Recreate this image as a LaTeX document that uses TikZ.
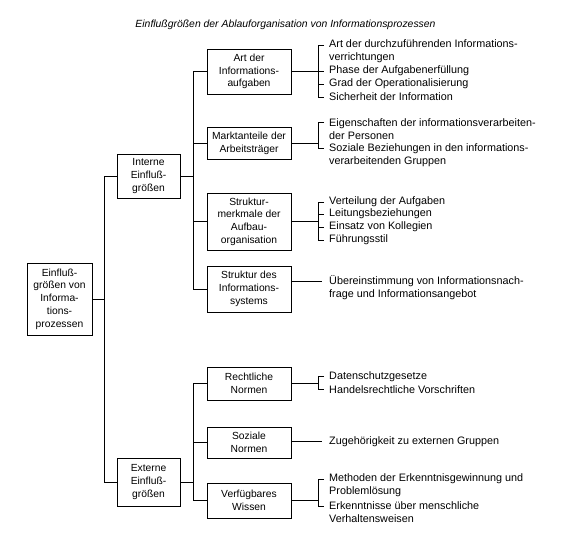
\documentclass[tikz,border=0pt]{standalone}
\usepackage{fontspec}
\setmainfont{Liberation Sans}
\begin{document}
\begin{tikzpicture}[x=1pt,y=-1pt,
  font=\fontsize{10.3}{12.7}\selectfont,
  box/.style={draw, line width=0.8pt, inner sep=0pt, align=center, minimum width=84pt},
  sbox/.style={draw, line width=0.8pt, inner sep=0pt, align=center, minimum width=63pt},
  item/.style={anchor=west, align=left, inner sep=0pt, font=\fontsize{10.8}{13}\selectfont},
  conn/.style={line width=0.8pt}]
\useasboundingbox (0,0) rectangle (573,555);
\node[font=\fontsize{10.4}{12.7}\selectfont\itshape] (title) at (285.5,25) {Einflußgrößen der Ablauforganisation von Informationsprozessen};

% boxes
\node[draw, line width=0.8pt, inner sep=0pt, align=center, minimum width=65pt, minimum height=72pt] (root) at (59.5,299) {Einfluß-\\größen von\\Informa-\\tions-\\prozessen};
\node[sbox, minimum height=44pt] (intern) at (148.5,176) {Interne\\Einfluß-\\größen};
\node[sbox, minimum height=48pt] (extern) at (148.5,482) {Externe\\Einfluß-\\größen};

\node[box, minimum height=45pt] (art) at (249,71.5) {Art der\\Informations-\\aufgaben};
\node[box, minimum height=32pt] (markt) at (249,143) {Marktanteile der\\Arbeitsträger};
\node[box, minimum height=57pt] (strukm) at (249,221.5) {Struktur-\\merkmale der\\Aufbau-\\organisation};
\node[box, minimum height=46pt] (struks) at (249,289) {Struktur des\\Informations-\\systems};
\node[box, minimum height=33pt] (recht) at (249,383.5) {Rechtliche\\Normen};
\node[box, minimum height=31pt] (sozial) at (249,442.5) {Soziale\\Normen};
\node[box, minimum height=35pt] (wissen) at (249,500.5) {Verfügbares\\Wissen};

% first level connectors
\coordinate (tA) at (104,176);
\coordinate (tB) at (104,482);
\draw[conn] (intern.west) -- (tA) -- (tB) -- (extern.west);
\draw[conn] (root.east) -- (root.east -| tA);

% second level, intern
\coordinate (iA) at (193,71.5);
\coordinate (iB) at (193,289);
\draw[conn] (intern.east) -- (intern.east -| iA);
\draw[conn] (art.west) -- (iA) -- (iB) -- (struks.west);
\draw[conn] (markt.west) -- (markt.west -| iA);
\draw[conn] (strukm.west) -- (strukm.west -| iA);

% second level, extern
\coordinate (eA) at (193,383.5);
\coordinate (eB) at (193,500.5);
\draw[conn] (extern.east) -- (extern.east -| eA);
\draw[conn] (recht.west) -- (eA) -- (eB) -- (wissen.west);
\draw[conn] (sozial.west) -- (sozial.west -| eA);

% leaves: Art der
\node[item] (a1) at (329,51.5) {Art der durchzuführenden Informations-\\verrichtungen};
\node[item] (a2) at (329,71) {Phase der Aufgabenerfüllung};
\node[item] (a3) at (329,84) {Grad der Operationalisierung};
\node[item] (a4) at (329,97) {Sicherheit der Information};
\coordinate (ab1) at (318,45);
\coordinate (ab4) at (318,97);
\draw[conn] (art.east) -- (art.east -| ab1);
\draw[conn] (324,45) -- (ab1) -- (ab4) -- (324,97);
\draw[conn] (318,71) -- (324,71);
\draw[conn] (318,84) -- (324,84);

% leaves: Marktanteile
\node[item] (m1) at (329,129) {Eigenschaften der informationsverarbeiten-\\der Personen};
\node[item] (m2) at (329,155) {Soziale Beziehungen in den informations-\\verarbeitenden Gruppen};
\coordinate (mb1) at (318,122);
\coordinate (mb2) at (318,148);
\draw[conn] (markt.east) -- (markt.east -| mb1);
\draw[conn] (324,122) -- (mb1) -- (mb2) -- (324,148);

% leaves: Strukturmerkmale
\node[item] (s1) at (329,202) {Verteilung der Aufgaben};
\node[item] (s2) at (329,214) {Leitungsbeziehungen};
\node[item] (s3) at (329,227) {Einsatz von Kollegien};
\node[item] (s4) at (329,240) {Führungsstil};
\coordinate (sb1) at (318,202);
\coordinate (sb4) at (318,240);
\draw[conn] (strukm.east) -- (strukm.east -| sb1);
\draw[conn] (324,202) -- (sb1) -- (sb4) -- (324,240);
\draw[conn] (318,214) -- (324,214);
\draw[conn] (318,227) -- (324,227);

% leaves: Struktur des Informationssystems
\node[item] (u1) at (329,287.5) {Übereinstimmung von Informationsnach-\\frage und Informationsangebot};
\coordinate (ub) at (322,281);
\draw[conn] (struks.east |- ub) -- (ub);

% leaves: Rechtliche Normen
\node[item] (r1) at (329,376.5) {Datenschutzgesetze};
\node[item] (r2) at (329,389.5) {Handelsrechtliche Vorschriften};
\coordinate (rb1) at (318,376.5);
\coordinate (rb2) at (318,389.5);
\draw[conn] (recht.east) -- (recht.east -| rb1);
\draw[conn] (324,376.5) -- (rb1) -- (rb2) -- (324,389.5);

% leaves: Soziale Normen
\node[item] (z1) at (329,441.5) {Zugehörigkeit zu externen Gruppen};
\draw[conn] (sozial.east |- z1.west) -- ++(31,0) coordinate (zb);

% leaves: Verfügbares Wissen
\node[item] (w1) at (329,485.5) {Methoden der Erkenntnisgewinnung und\\Problemlösung};
\node[item] (w2) at (329,512.5) {Erkenntnisse über menschliche\\Verhaltensweisen};
\coordinate (wb1) at (318,479);
\coordinate (wb2) at (318,506);
\draw[conn] (wissen.east) -- (wissen.east -| wb1);
\draw[conn] (324,479) -- (wb1) -- (wb2) -- (324,506);
\end{tikzpicture}
\end{document}
